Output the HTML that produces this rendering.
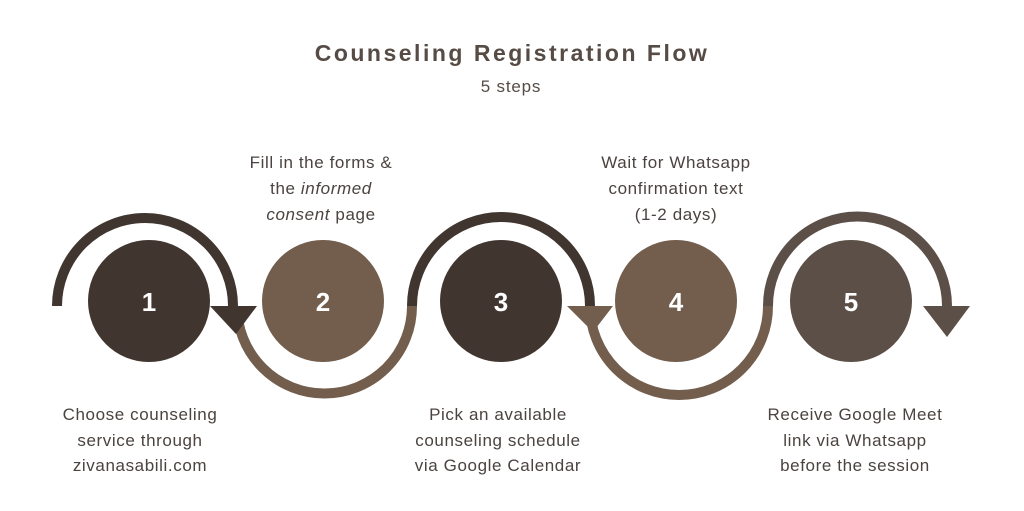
<!DOCTYPE html>
<html><head><meta charset="utf-8"><style>
html,body{margin:0;padding:0;background:#fff}
svg{display:block}
text{font-family:"Liberation Sans",sans-serif}
</style></head><body>
<svg width="1024" height="511" viewBox="0 0 1024 511" xmlns="http://www.w3.org/2000/svg">
<rect width="1024" height="511" fill="#fff"/>
<text x="512" y="61" text-anchor="middle" font-size="23" font-weight="bold" letter-spacing="2.5" fill="#564b45">Counseling Registration Flow</text>
<text x="511" y="92" text-anchor="middle" font-size="17" letter-spacing="0.8" fill="#564b45">5 steps</text>

<g fill="none" stroke-width="10">
<path d="M57 306 A88 88 0 0 1 233 306" stroke="#41352f"/>
<path d="M237 306 A87.5 87.5 0 0 0 412 306" stroke="#735d4c"/>
<path d="M412 306 A89 89 0 0 1 590 306" stroke="#41352f"/>
<path d="M590 306 A89 89 0 0 0 768 306" stroke="#735d4c"/>
<path d="M768 306 A89.5 89.5 0 0 1 947 306" stroke="#5c4f47"/>
</g>
<polygon points="210,306 257,306 236,334" fill="#41352f"/>
<polygon points="567,306 613,306 593,332" fill="#735d4c"/>
<polygon points="923,306 970,306 947,337" fill="#5c4f47"/>

<circle cx="149" cy="301" r="61" fill="#41352f"/>
<circle cx="323" cy="301" r="61" fill="#735d4c"/>
<circle cx="501" cy="301" r="61" fill="#41352f"/>
<circle cx="676" cy="301" r="61" fill="#735d4c"/>
<circle cx="851" cy="301" r="61" fill="#5c4f47"/>
<g fill="#fff" font-size="26" font-weight="bold" text-anchor="middle">
<text x="149" y="311">1</text><text x="323" y="311">2</text><text x="501" y="311">3</text><text x="676" y="311">4</text><text x="851" y="311">5</text>
</g>

<g fill="#4a4340" font-size="17" letter-spacing="0.6" text-anchor="middle">
<text x="321" y="168">Fill in the forms &amp;</text>
<text x="321" y="194">the <tspan font-style="italic">informed</tspan></text>
<text x="321" y="220"><tspan font-style="italic">consent</tspan> page</text>
<text x="676" y="168">Wait for Whatsapp</text>
<text x="676" y="194">confirmation text</text>
<text x="676" y="220">(1-2 days)</text>
<text x="140" y="420">Choose counseling</text>
<text x="140" y="446">service through</text>
<text x="140" y="471">zivanasabili.com</text>
<text x="498" y="420">Pick an available</text>
<text x="498" y="446">counseling schedule</text>
<text x="498" y="471">via Google Calendar</text>
<text x="855" y="420">Receive Google Meet</text>
<text x="855" y="446">link via Whatsapp</text>
<text x="855" y="471">before the session</text>
</g>
</svg>
</body></html>
